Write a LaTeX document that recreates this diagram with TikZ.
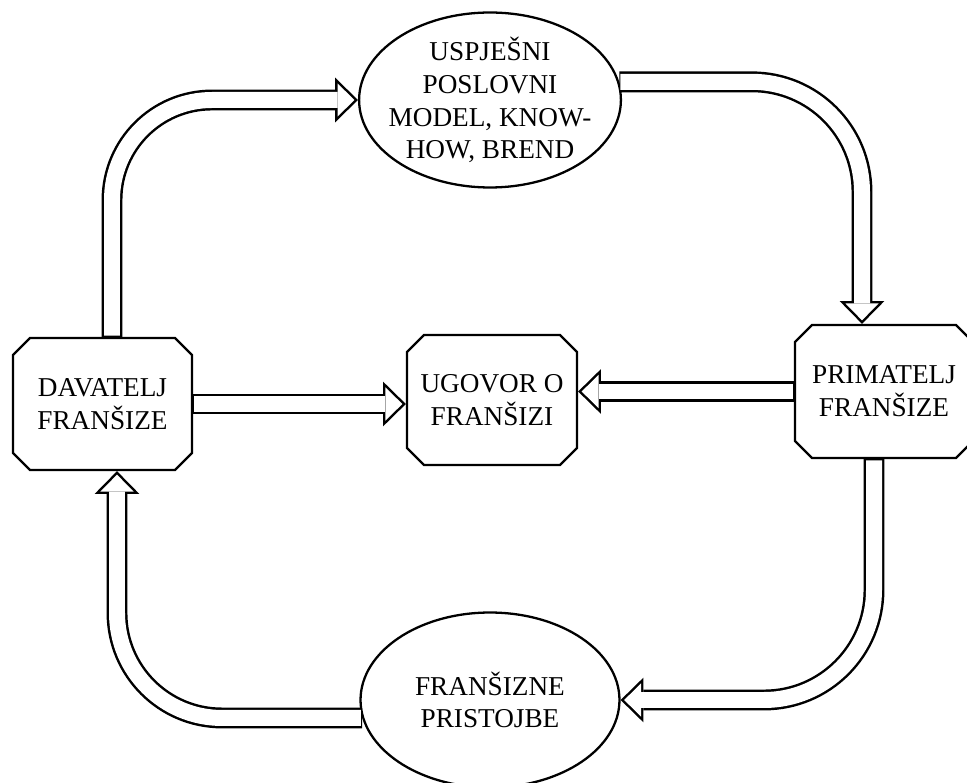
\documentclass[tikz,border=0pt]{standalone}
\usepackage{fontspec}
\setmainfont{Liberation Serif}
\usetikzlibrary{shapes.misc,shapes.geometric,arrows.meta}

\begin{document}
\begin{tikzpicture}[x=0.02cm, y=-0.02cm,
    every node/.style={font=\fontsize{15.5}{18.7}\selectfont, align=center},
    cbox/.style={draw, line width=1.3pt, chamfered rectangle,
        chamfered rectangle xsep=0.17cm, chamfered rectangle ysep=0.17cm,
        minimum width=3.5cm, minimum height=2.64cm, inner sep=2pt},
    oval/.style={draw, line width=1.3pt, ellipse, minimum width=5.18cm, minimum height=3.5cm, inner sep=-5pt},
    hollow/.style={draw=black, line width=11.9pt,
        -{Triangle[length=13pt, width=25.5pt, line width=0pt, fill=black]},
        postaction={draw=white, line width=9.1pt, shorten >=2pt, shorten <=0.7pt,
            -{Triangle[length=9.6pt, width=18.8pt, line width=0pt, fill=white]}}}]

    \useasboundingbox (0,0) rectangle (967,783);

    \node[cbox, minimum width=3.58cm] (a) at (102.5, 404) {DAVATELJ\\FRANŠIZE};
    \node[cbox, minimum width=3.4cm, minimum height=2.6cm] (b) at (492, 400) {UGOVOR O\\FRANŠIZI};
    \node[cbox, minimum width=3.56cm, minimum height=2.66cm] (c) at (884, 391.5) {PRIMATELJ\\FRANŠIZE};
    \node[oval] (d) at (490, 100) {USPJEŠNI\\POSLOVNI\\MODEL, KNOW-\\HOW, BREND};
    \node[oval] (e) at (490, 700) {FRANŠIZNE\\PRISTOJBE};

    \draw [hollow, rounded corners=2cm] ([xshift=0.19cm]a.north) |- (d.west);
    \draw [hollow, rounded corners=2.2cm] (d.8) -| ([xshift=-0.44cm]c.north);
    \draw [hollow] (c.west) -- (c.west -| b.east);
    \draw [hollow] (a.east) -- (a.east -| b.west);
    \draw [hollow, rounded corners=2.2cm] ([xshift=-0.2cm]c.south) |- (e.east);
    \draw [hollow, rounded corners=2.1cm] (e.188) -| ([xshift=0.29cm]a.south);

\end{tikzpicture}
\end{document}
